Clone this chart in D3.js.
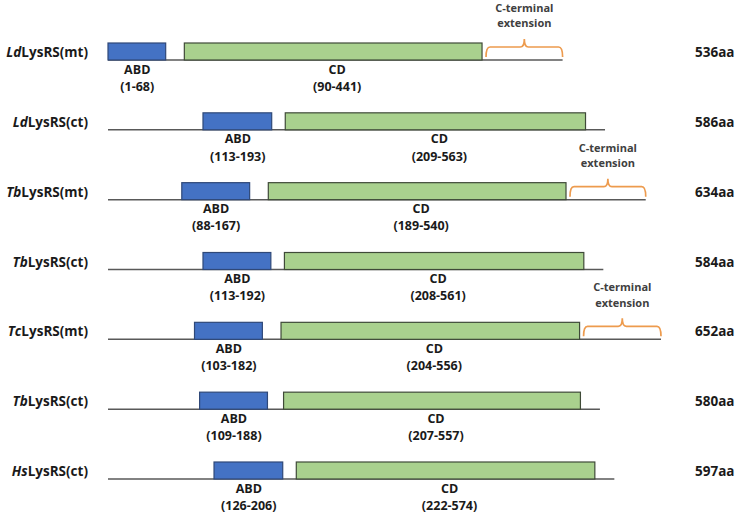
<!DOCTYPE html>
<html>
<head>
<meta charset="utf-8">
<script src="https://cdn.jsdelivr.net/npm/d3@7"></script>
<style>
    body { margin: 0; background: #fff; }
    text { font-family: "Open Sans", "Noto Sans", sans-serif; font-weight: bold; }
</style>
</head>
<body>
<div id="chart"></div>
<script>
// species prefix (italic) + name
let prefixes = ['Ld', 'Ld', 'Tb', 'Tb', 'Tc', 'Tb', 'Hs']
let names = ['LysRS(mt)', 'LysRS(ct)', 'LysRS(mt)', 'LysRS(ct)', 'LysRS(mt)', 'LysRS(ct)', 'LysRS(ct)']
let lengths = [536, 586, 634, 584, 652, 580, 597]
let abdStart = [1, 113, 88, 113, 103, 109, 126]
let abdEnd = [68, 193, 167, 192, 182, 188, 206]
let cdStart = [90, 209, 189, 208, 204, 207, 222]
let cdEnd = [441, 563, 540, 561, 556, 557, 574]
let extension = [true, false, true, false, true, false, false]

let width = 738
let height = 519
let boxH = 17

let rows = prefixes.map(function (p, i) {
    return {
        prefix: p, name: names[i], len: lengths[i],
        abd: [abdStart[i], abdEnd[i]], cd: [cdStart[i], cdEnd[i]],
        ext: extension[i]
    }
})

let svg = d3.select("#chart").append("svg")
    .attr("width", width)
    .attr("height", height)

let x = d3.scaleLinear().domain([0, 652]).range([108, 661])
let y = d3.scalePoint().domain(d3.range(rows.length)).range([60, 479])

let g = svg.selectAll("g.row")
    .data(rows)
    .enter()
    .append("g")
    .attr("class", "row")
    .attr("transform", function (d, i) { return "translate(0," + y(i) + ")" })

// backbone
g.append("line")
    .attr("x1", x(0))
    .attr("x2", function (d) { return x(d.len) })
    .attr("y1", 0).attr("y2", 0)
    .attr("stroke", "#595959")
    .attr("stroke-width", 1.5)

// ABD
g.append("rect")
    .attr("x", function (d) { return x(d.abd[0] - 1) })
    .attr("width", function (d) { return x(d.abd[1]) - x(d.abd[0] - 1) })
    .attr("y", -boxH).attr("height", boxH)
    .attr("fill", "#4472C4")
    .attr("stroke", "#2F4878")
    .attr("stroke-width", 1.2)

// CD
g.append("rect")
    .attr("x", function (d) { return x(d.cd[0]) })
    .attr("width", function (d) { return x(d.cd[1]) - x(d.cd[0]) })
    .attr("y", -boxH).attr("height", boxH)
    .attr("fill", "#A9D18E")
    .attr("stroke", "#3F4A38")
    .attr("stroke-width", 1.2)

// domain labels (name + range)
function domainLabel(key, title) {
    let cx = function (d) { return (x(d[key][0]) + x(d[key][1])) / 2 + (key == 'cd' ? 4 : 0) }
    let t = g.append("text")
        .attr("y", 13.5)
        .attr("text-anchor", "middle")
        .attr("font-size", 12.5)
        .attr("fill", "#1a1a1a")
    t.append("tspan")
        .attr("x", cx)
        .text(title)
    t.append("tspan")
        .attr("x", cx)
        .attr("dy", 17.2)
        .text(function (d) { return "(" + d[key][0] + "-" + d[key][1] + ")" })
}
domainLabel('abd', 'ABD')
domainLabel('cd', 'CD')

// row name
let lbl = g.append("text")
    .attr("x", 88).attr("y", -3)
    .attr("text-anchor", "end")
    .attr("font-size", 13.5)
    .attr("fill", "#1a1a1a")
lbl.append("tspan").attr("font-style", "italic").text(function (d) { return d.prefix })
lbl.append("tspan").text(function (d) { return d.name })

// length
g.append("text")
    .attr("x", 695).attr("y", -3)
    .attr("font-size", 13.5)
    .attr("fill", "#1a1a1a")
    .text(function (d) { return d.len + "aa" })

// C-terminal extension brace
let ext = g.filter(function (d) { return d.ext })
let extMid = function (d) { return (x(d.cd[1]) + 4 + x(d.len)) / 2 }

ext.append("path")
    .attr("d", function (d) {
        let x0 = x(d.cd[1]) + 4
        let x1 = x(d.len)
        let xm = (x0 + x1) / 2
        let yb = -3, yh = -13, yt = -21, r = 4
        return "M" + x0 + "," + yb +
            "Q" + x0 + "," + yh + " " + (x0 + r) + "," + yh +
            "L" + (xm - r) + "," + yh +
            "Q" + xm + "," + yh + " " + xm + "," + yt +
            "Q" + xm + "," + yh + " " + (xm + r) + "," + yh +
            "L" + (x1 - r) + "," + yh +
            "Q" + x1 + "," + yh + " " + x1 + "," + yb
    })
    .attr("fill", "none")
    .attr("stroke", "#ED9B4E")
    .attr("stroke-width", 1.7)

let extText = ext.append("text")
    .attr("y", -48)
    .attr("text-anchor", "middle")
    .attr("font-size", 11)
    .attr("fill", "#404040")
extText.append("tspan").attr("x", extMid).text("C-terminal")
extText.append("tspan").attr("x", extMid).attr("dy", 15.2).text("extension")
</script>
</body>
</html>
